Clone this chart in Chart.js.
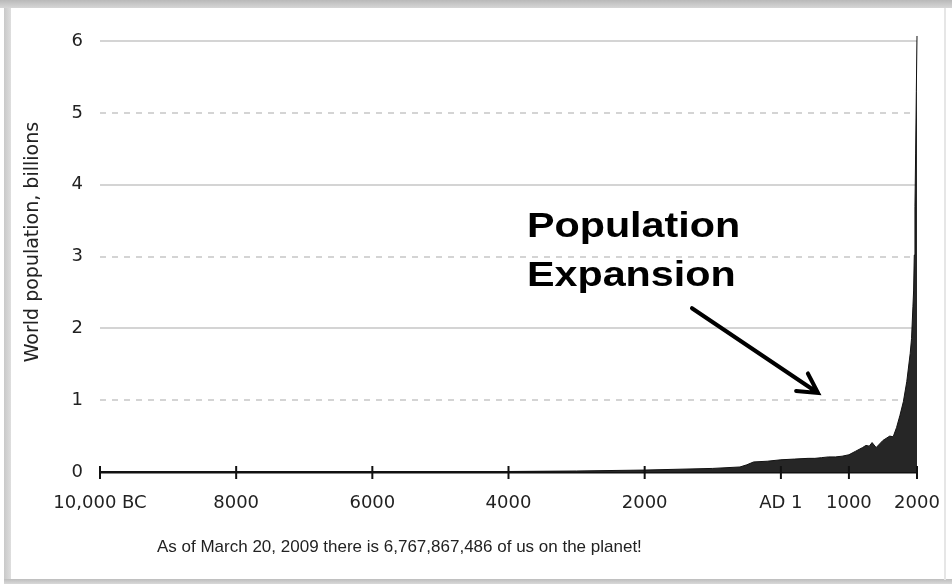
<!DOCTYPE html>
<html lang="en">
<head>
    <meta charset="UTF-8">
    <title>World population</title>
    <script src="https://cdn.jsdelivr.net/npm/chart.js"></script>
    <style>
        html, body { margin: 0; padding: 0; background: #fff; }
        .frame {
            position: absolute; left: 0; top: 0; width: 952px; height: 584px; overflow: hidden;
        }
        .edge-top { position: absolute; left: 0; top: 0; width: 952px; height: 8px;
            background: linear-gradient(#b9b9b9, #d6d6d6); }
        .edge-left { position: absolute; left: 4px; top: 8px; width: 7px; height: 572px;
            background: linear-gradient(90deg, #c9c9c9, #dedede); }
        .edge-bottom { position: absolute; left: 4px; top: 579px; width: 948px; height: 5px;
            background: linear-gradient(#bdbdbd, #d9d9d9); }
        .edge-right { position: absolute; left: 944px; top: 8px; width: 2px; height: 572px; background: #e6e6e6; }
        #chart { position: absolute; left: 0; top: 0; }
        .caption {
            position: absolute; left: 157px; top: 537px;
            font-family: "Liberation Sans", Arial, sans-serif; font-size: 17px; color: #222;
            white-space: nowrap;
        }
    </style>
</head>
<body>
<div class="frame">
    <div class="edge-top"></div>
    <div class="edge-left"></div>
    <div class="edge-bottom"></div>
    <div class="edge-right"></div>
    <canvas id="chart" width="952" height="584"></canvas>
    <div class="caption">As of March 20, 2009 there is 6,767,867,486 of us on the planet!</div>
</div>

<script>
    // population estimates, year (negative = BC) and billions
    const years = [-10000, -8000, -6500, -5000, -4000, -3000, -2000, -1000, -600, -500, -400, -200, 1,
        200, 400, 500, 600, 700, 800, 900, 1000, 1100, 1200, 1250, 1300, 1340, 1400, 1500, 1600, 1650,
        1700, 1750, 1800, 1850, 1900, 1920, 1940, 1950, 1960, 1970, 1980, 1990, 2000];
    const population = [0.004, 0.005, 0.005, 0.005, 0.007, 0.014, 0.027, 0.05, 0.07, 0.1, 0.14, 0.15, 0.17,
        0.18, 0.19, 0.19, 0.2, 0.21, 0.21, 0.22, 0.24, 0.29, 0.34, 0.37, 0.36, 0.41, 0.34, 0.44, 0.5, 0.49,
        0.62, 0.79, 0.98, 1.26, 1.65, 1.86, 2.3, 2.52, 3.02, 3.7, 4.44, 5.3, 6.07];

    const tickYears = [-10000, -8000, -6000, -4000, -2000, 1, 1000, 2000];
    const tickLabels = ['10,000 BC', '8000', '6000', '4000', '2000', 'AD 1', '1000', '2000'];
    const yTitle = 'World population, billions';

    // annotation anchors in data space
    const noteLines = ['Population', 'Expansion'];
    const notePos = { x: -3730, y: 3.27 };
    const arrowFrom = { x: -1305, y: 2.28 };
    const arrowTo = { x: 546, y: 1.1 };

    const points = years.map((y, i) => ({ x: y, y: population[i] }));

    const overlay = {
        id: 'overlay',
        afterDraw(chart) {
            const { ctx, scales: { x, y } } = chart;
            const base = y.getPixelForValue(0);
            ctx.save();
            // tick marks across the axis
            ctx.strokeStyle = '#111';
            ctx.lineWidth = 2;
            tickYears.forEach(v => {
                const px = x.getPixelForValue(v);
                ctx.beginPath();
                ctx.moveTo(px, base - 6);
                ctx.lineTo(px, base + 7);
                ctx.stroke();
            });

            // y axis title, sits a bit above the plot's centre
            ctx.save();
            ctx.translate(33, y.getPixelForValue(3.2));
            ctx.rotate(-Math.PI / 2);
            ctx.font = '19px "DejaVu Sans"';
            ctx.fillStyle = '#222';
            ctx.textAlign = 'center';
            ctx.textBaseline = 'middle';
            ctx.fillText(yTitle, 0, 0);
            ctx.restore();

            // text
            ctx.fillStyle = '#000';
            ctx.font = 'bold 35px "Liberation Sans", Arial, sans-serif';
            ctx.textBaseline = 'alphabetic';
            const tx = x.getPixelForValue(notePos.x);
            const ty = y.getPixelForValue(notePos.y);
            noteLines.forEach((t, i) => {
                ctx.save();
                ctx.translate(tx, ty + i * 49);
                ctx.scale(1.18, 1);
                ctx.fillText(t, 0, 0);
                ctx.restore();
            });

            // arrow
            const x1 = x.getPixelForValue(arrowFrom.x), y1 = y.getPixelForValue(arrowFrom.y);
            const x2 = x.getPixelForValue(arrowTo.x), y2 = y.getPixelForValue(arrowTo.y);
            const ang = Math.atan2(y2 - y1, x2 - x1);
            ctx.strokeStyle = '#000';
            ctx.lineWidth = 4;
            ctx.lineCap = 'round';
            ctx.beginPath();
            ctx.moveTo(x1, y1);
            ctx.lineTo(x2, y2);
            ctx.moveTo(x2 - 22 * Math.cos(ang - 0.5), y2 - 22 * Math.sin(ang - 0.5));
            ctx.lineTo(x2, y2);
            ctx.lineTo(x2 - 22 * Math.cos(ang + 0.5), y2 - 22 * Math.sin(ang + 0.5));
            ctx.stroke();
            ctx.restore();
        }
    };

    new Chart(document.getElementById('chart'), {
        type: 'line',
        data: {
            datasets: [{
                data: points,
                borderColor: '#111',
                borderWidth: 1,
                backgroundColor: '#262626',
                fill: 'origin',
                pointRadius: 0,
                tension: 0,
                clip: false
            }]
        },
        options: {
            responsive: false,
            animation: false,
            layout: { padding: { top: 41, right: 35, left: 0, bottom: 0 } },
            plugins: { legend: { display: false }, tooltip: { enabled: false } },
            scales: {
                x: {
                    type: 'linear',
                    min: -10000,
                    max: 2000,
                    afterBuildTicks: s => { s.ticks = tickYears.map(v => ({ value: v })); },
                    afterFit: s => { s.height = 112; s.paddingLeft = 0; s.paddingRight = 0; },
                    grid: { display: false, drawTicks: false },
                    border: { display: true, color: '#111', width: 2.5 },
                    ticks: {
                        autoSkip: false,
                        maxRotation: 0,
                        padding: 21,
                        color: '#222',
                        font: { family: '"DejaVu Sans"', size: 18 },
                        callback: (v, i) => tickLabels[i]
                    }
                },
                y: {
                    min: 0,
                    max: 6,
                    afterFit: s => { s.width = 100; },
                    ticks: {
                        stepSize: 1,
                        padding: 17,
                        color: '#222',
                        font: { family: '"DejaVu Sans"', size: 18 }
                    },
                    grid: {
                        drawTicks: false,
                        lineWidth: 2,
                        color: c => c.tick && c.tick.value === 0 ? 'rgba(0,0,0,0)' : '#d4d4d4'
                    },
                    border: {
                        display: false,
                        dash: c => c.tick && c.tick.value % 2 === 1 ? [6, 6] : []
                    }
                }
            }
        },
        plugins: [overlay]
    });
</script>
</body>
</html>
